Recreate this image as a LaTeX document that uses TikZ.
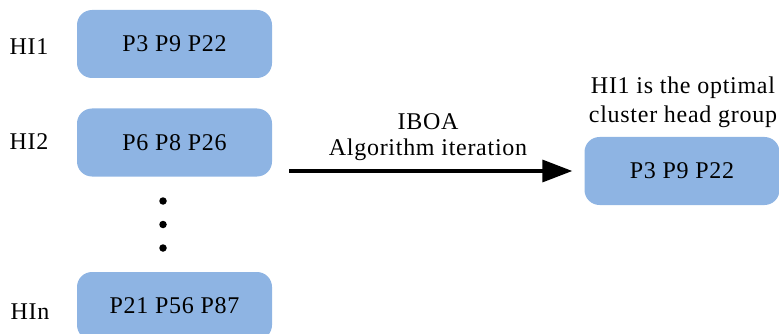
\documentclass[tikz,border=0pt]{standalone}
\usepackage{fontspec}
\setmainfont{Liberation Serif}[LetterSpace=3]
\usetikzlibrary{arrows.meta}
\definecolor{boxblue}{HTML}{8EB4E3}
\begin{document}
\begin{tikzpicture}[x=1pt,y=-1pt,
  every node/.style={font=\fontsize{24}{28}\selectfont, inner sep=0pt},
  pbox/.style={fill=boxblue, rounded corners=15pt, minimum width=195pt, minimum height=68pt, text=black},
  lbl/.style={text=black},
  dotmark/.style={fill=black, circle, minimum size=7.5pt},
  flow/.style={line width=3.5pt, -{Triangle[length=30pt,width=22pt]}}]
\useasboundingbox (0,0) rectangle (779,334);
\clip (0,0) rectangle (779,334);
\node[pbox] (b1) at (174.5,44) {P3 P9 P22};
\node[pbox] (b2) at (174.5,142.5) {P6 P8 P26};
\node[pbox] (b3) at (174.5,306) {P21 P56 P87};
\node[lbl] (l1) at (29,47) {HI1};
\node[lbl] (l2) at (29,142) {HI2};
\node[lbl] (l3) at (30,312) {HIn};
\node[dotmark] (d1) at (163,201) {};
\node[dotmark] (d2) at (163,224.5) {};
\node[dotmark] (d3) at (163,248) {};
\node[pbox] (res) at (682,171) {P3 P9 P22};
\node[lbl] (t1) at (428,122) {IBOA};
\node[lbl] (t2) at (428,150) {Algorithm iteration};
\node[lbl] (r1) at (683,88) {HI1 is the optimal};
\node[lbl] (r2) at (683,117) {cluster head group};
\coordinate (a0) at (289,171);
\draw[flow] (a0) -- ([xshift=-12pt]res.west);
\end{tikzpicture}
\end{document}
